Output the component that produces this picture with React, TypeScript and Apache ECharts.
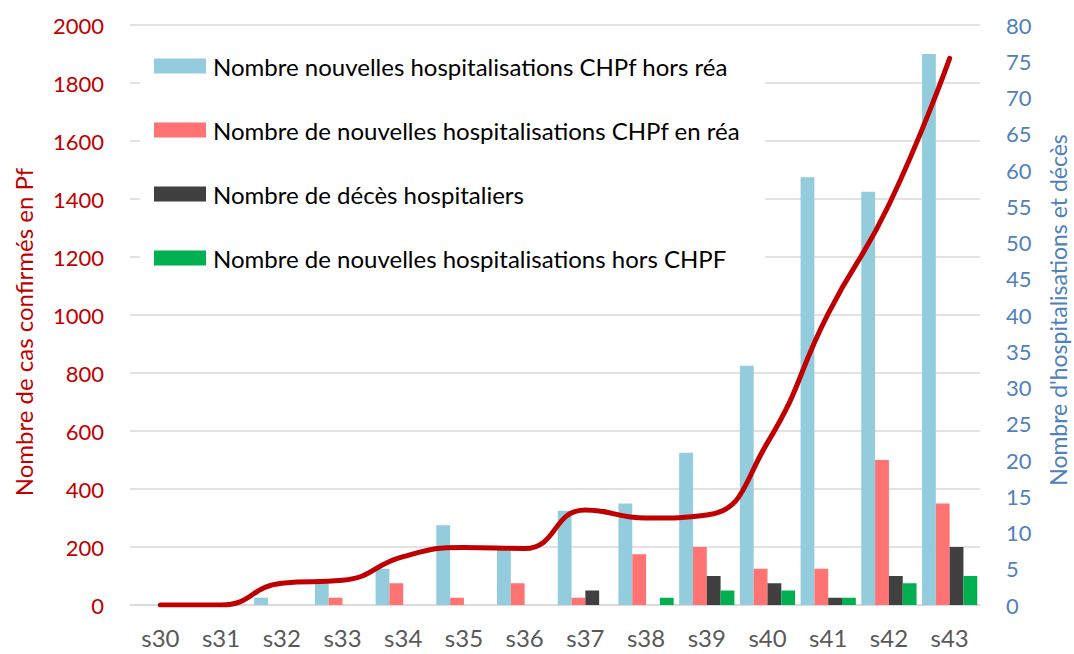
import React, { useEffect, useRef } from "react";
import * as echarts from "echarts";

const categories = ["s30", "s31", "s32", "s33", "s34", "s35", "s36", "s37", "s38", "s39", "s40", "s41", "s42", "s43"];
const horsRea = [0, 0, 1, 3, 5, 11, 8, 13, 14, 21, 33, 59, 57, 76];
const enRea = [0, 0, 0, 1, 3, 1, 3, 1, 7, 8, 5, 5, 20, 14];
const deces = [0, 0, 0, 0, 0, 0, 0, 2, 0, 4, 3, 1, 4, 8];
const horsCHPF = [0, 0, 0, 0, 0, 0, 0, 0, 1, 2, 2, 1, 3, 4];
const casConfirmes = [0, 0, 75, 85, 167, 198, 195, 328, 300, 310, 560, 1005, 1380, 1885];

const seriesNames = [
  "Nombre nouvelles hospitalisations CHPf hors réa",
  "Nombre de nouvelles hospitalisations CHPf en réa",
  "Nombre de décès hospitaliers",
  "Nombre de nouvelles hospitalisations hors CHPF",
];
const leftAxisName = "Nombre de cas confirmés en Pf";
const rightAxisName = "Nombre d'hospitalisations et décès";
const lineName = "Nombre de cas confirmés";

const FONT = "Lato, 'Open Sans', sans-serif";

export default function App() {
  const ref = useRef<HTMLDivElement>(null);
  useEffect(() => {
    if (!ref.current) return;
    const chart = echarts.init(ref.current, undefined, { renderer: "svg" });
    const colors = ["#93CDDD", "#FF7373", "#404040", "#00B050"];
    const barData = [horsRea, enRea, deces, horsCHPF];
    chart.setOption({
      animation: false,
      textStyle: { fontFamily: FONT },
      grid: { left: 130, right: 94, top: 25, bottom: 49, containLabel: false },
      legend: {
        data: seriesNames,
        orient: "vertical",
        left: 140,
        top: 40,
        padding: [14, 25, 14, 14],
        backgroundColor: "#ffffff",
        itemWidth: 52,
        itemHeight: 15,
        itemGap: 40,
        icon: "rect",
        textStyle: { fontSize: 24, color: "#000000", lineHeight: 22, padding: [0, 0, 0, 2], fontFamily: FONT },
      },
      xAxis: {
        type: "category",
        data: categories,
        axisLine: { lineStyle: { color: "#D9D9D9", width: 1.5 } },
        axisTick: { show: false },
        axisLabel: { color: "#595959", fontSize: 24, margin: 20, fontFamily: FONT },
      },
      yAxis: [
        {
          type: "value",
          min: 0,
          max: 2000,
          interval: 200,
          position: "left",
          axisLine: { show: false },
          axisTick: { show: false },
          axisLabel: {
            color: "#C00000",
            fontSize: 22,
            margin: 26,
            fontFamily: FONT,
            formatter: (v: number) => String(v),
          },
          splitLine: { lineStyle: { color: "#D9D9D9", width: 1.5 } },
        },
        {
          type: "value",
          min: 0,
          max: 80,
          interval: 5,
          position: "right",
          axisLine: { show: false },
          axisTick: { show: false },
          axisLabel: { color: "#4F81BD", fontSize: 22, margin: 26, fontFamily: FONT },
          splitLine: { show: false },
        },
      ],
      graphic: [
        {
          type: "text",
          x: 23,
          y: 332,
          rotation: Math.PI / 2,
          style: {
            text: leftAxisName,
            fill: "#C00000",
            fontSize: 24,
            fontFamily: FONT,
            align: "center",
            verticalAlign: "middle",
          },
        },
        {
          type: "text",
          x: 1058,
          y: 310,
          rotation: Math.PI / 2,
          style: {
            text: rightAxisName,
            fill: "#4F81BD",
            fontSize: 23,
            fontFamily: FONT,
            align: "center",
            verticalAlign: "middle",
          },
        },
      ],
      series: [
        ...barData.map((d, i) => ({
          name: seriesNames[i],
          type: "bar",
          yAxisIndex: 1,
          data: d,
          barGap: "0%",
          barCategoryGap: "9%",
          itemStyle: { color: colors[i] },
          z: 2,
        })),
        {
          name: lineName,
          type: "line",
          yAxisIndex: 0,
          data: casConfirmes,
          smooth: 0.5,
          symbol: "none",
          lineStyle: { color: "#C00000", width: 5, cap: "round", join: "round" },
          z: 5,
        },
      ],
    });
    return () => chart.dispose();
  }, []);
  return <div ref={ref} style={{ width: 1074, height: 654, position: "absolute", left: 0, top: 0 }} />;
}
